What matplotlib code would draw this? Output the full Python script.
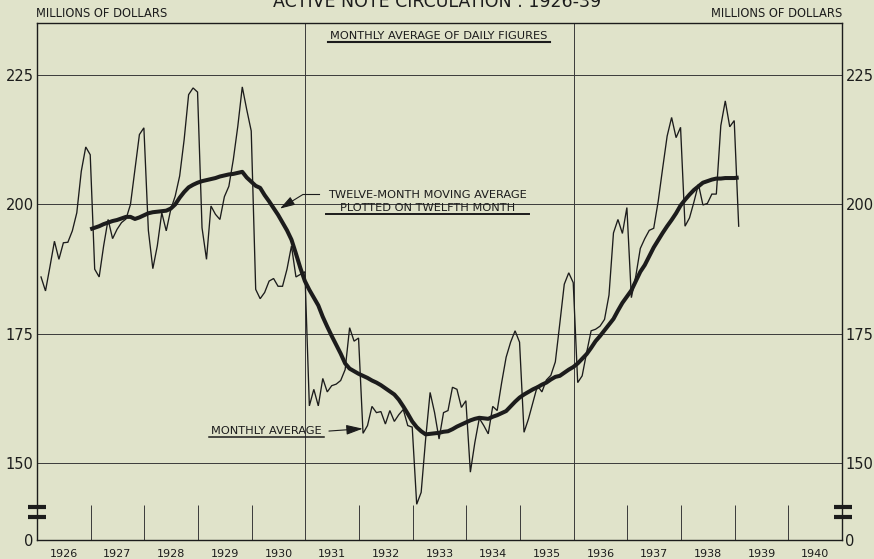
import numpy as np
import matplotlib
matplotlib.use("Agg")
import matplotlib.pyplot as plt
import matplotlib.transforms as mtransforms
from matplotlib.lines import Line2D

# ── Data: active note circulation, millions of dollars ─────
START_YEAR = 1926

# monthly average of daily figures, Jan 1926 .. Jan 1939
monthly_avg = [
    186.0, 183.3, 188.0, 192.9, 189.4, 192.6, 192.7, 194.9, 198.4, 206.4, 211.1, 209.6,  # 1926
    187.5, 186.0, 192.0, 197.1, 193.4, 195.2, 196.5, 197.2, 200.0, 206.8, 213.5, 214.8,  # 1927
    195.0, 187.6, 192.0, 198.4, 194.9, 199.0, 201.6, 205.5, 212.5, 221.2, 222.5, 221.7,  # 1928
    195.5, 189.4, 199.7, 198.1, 197.1, 201.5, 203.5, 208.7, 215.1, 222.7, 218.3, 214.2,  # 1929
    183.6, 181.8, 183.0, 185.2, 185.7, 184.2, 184.2, 187.5, 192.0, 186.0, 186.5, 187.0,  # 1930
    161.1, 164.3, 161.1, 166.4, 163.8, 165.0, 165.3, 166.0, 168.1, 176.2, 173.6, 174.2,  # 1931
    155.8, 157.3, 161.0, 159.8, 160.0, 157.6, 160.2, 158.1, 159.4, 160.4, 157.3, 157.0,  # 1932
    142.1, 144.4, 154.7, 163.7, 159.8, 154.7, 159.8, 160.2, 164.7, 164.3, 160.8, 162.1,  # 1933
    148.3, 154.0, 158.7, 157.3, 155.7, 161.0, 160.2, 165.6, 170.5, 173.4, 175.6, 173.4,  # 1934
    156.0, 158.6, 161.8, 165.0, 163.8, 166.1, 167.0, 169.6, 177.0, 184.6, 186.8, 184.9,  # 1935
    165.6, 166.9, 171.4, 175.6, 175.9, 176.5, 177.8, 182.5, 194.5, 197.1, 194.4, 199.4,  # 1936
    182.0, 186.2, 191.5, 193.4, 195.0, 195.4, 200.6, 207.0, 213.2, 216.8, 212.9, 214.9,  # 1937
    195.8, 197.4, 200.5, 203.9, 199.9, 200.2, 202.0, 202.0, 215.2, 220.0, 215.0, 216.2,  # 1938
    195.8,                                                                                # 1939
]

# twelve-month moving average, plotted on twelfth month (Dec 1926 .. Jan 1939)
MA_FIRST_MONTH = 11
moving_avg = [
    195.2,                                                                                # 1926
    195.5, 195.8, 196.2, 196.5, 196.8, 197.0, 197.3, 197.6, 197.6, 197.2, 197.5, 197.9,  # 1927
    198.3, 198.5, 198.6, 198.7, 198.8, 199.2, 200.0, 201.3, 202.4, 203.3, 203.8, 204.2,  # 1928
    204.5, 204.7, 204.9, 205.1, 205.4, 205.6, 205.8, 205.9, 206.1, 206.3, 205.2, 204.4,  # 1929
    203.6, 203.2, 201.8, 200.6, 199.3, 198.0, 196.5, 195.0, 193.2, 190.5, 187.7, 185.2,  # 1930
    183.5, 182.0, 180.5, 178.3, 176.4, 174.6, 172.9, 171.2, 169.3, 168.3, 167.8, 167.3,  # 1931
    166.9, 166.5, 166.0, 165.6, 165.1, 164.5, 163.9, 163.3, 162.3, 161.0, 159.6, 158.1,  # 1932
    157.0, 156.2, 155.6, 155.7, 155.8, 155.9, 156.1, 156.2, 156.6, 157.1, 157.5, 157.9,  # 1933
    158.3, 158.6, 158.8, 158.7, 158.6, 159.0, 159.3, 159.7, 160.1, 161.0, 161.9, 162.7,  # 1934
    163.3, 163.8, 164.3, 164.7, 165.2, 165.6, 166.2, 166.7, 166.9, 167.5, 168.1, 168.6,  # 1935
    169.3, 170.2, 171.1, 172.3, 173.6, 174.6, 175.7, 176.8, 177.9, 179.5, 181.0, 182.2,  # 1936
    183.4, 185.2, 187.0, 188.3, 190.0, 191.7, 193.1, 194.5, 195.8, 197.0, 198.3, 199.8,  # 1937
    200.9, 201.9, 202.8, 203.5, 204.2, 204.5, 204.8, 205.0, 205.0, 205.1, 205.1, 205.1,  # 1938
    205.2,                                                                                # 1939
]

year_labels = [str(y) for y in range(1926, 1941)]
grid_values = [150, 175, 200, 225]

# ── Style / layout ─────────────────────────────────────────
BG = "#e0e3ca"
INK = "#1c1c1c"
GRID = "#3a3a3a"
ZERO_POS = 135.2      # broken axis: where zero sits below 150
Y_TOP = 235.1
MONTH_OFFSET = 0.9    # points sit near the end of each month

plt.rcParams["font.family"] = ["DejaVu Sans"]

fig = plt.figure(figsize=(8.74, 5.59), dpi=100)
fig.patch.set_facecolor(BG)
ax = fig.add_axes([37 / 874, 1 - 540 / 559, 805 / 874, (540 - 22.7) / 559])
ax.set_facecolor(BG)
ax.set_xlim(1926, 1941)
ax.set_ylim(ZERO_POS, Y_TOP)

for s in ax.spines.values():
    s.set_color(INK)
    s.set_linewidth(1.0)

# grid
ax.hlines(grid_values, 1926, 1941, color=GRID, lw=0.7, zorder=1)
ax.vlines([1931, 1936], ZERO_POS, Y_TOP, color=GRID, lw=0.7, zorder=1)
short = [y for y in range(1927, 1941) if y not in (1931, 1936)]
ax.vlines(short, ZERO_POS, 141.95, color=GRID, lw=0.7, zorder=1)

# series
months = np.arange(len(monthly_avg))
t_month = START_YEAR + (months + MONTH_OFFSET) / 12
t_ma = START_YEAR + (np.arange(len(moving_avg)) + MA_FIRST_MONTH + MONTH_OFFSET) / 12
ax.plot(t_month, monthly_avg, color=INK, lw=0.95, solid_joinstyle="miter", zorder=3)
ax.plot(t_ma, moving_avg, color=INK, lw=2.9, solid_capstyle="butt",
        solid_joinstyle="round", zorder=4)

# ticks
ax.set_yticks([ZERO_POS] + grid_values, ["0"] + [str(v) for v in grid_values])
ax.tick_params(axis="y", length=0, pad=2.5, labelsize=10.5, labelcolor=INK,
               left=True, right=True, labelleft=True, labelright=True)
ax.set_xticks(np.arange(1926, 1941) + 0.5, year_labels)
ax.tick_params(axis="x", length=0, pad=6.5, labelsize=8, labelcolor=INK)

# axis break marks
brk = mtransforms.blended_transform_factory(ax.transAxes, ax.transData)
for yb in (141.55, 139.6):
    for x0, x1 in ((-0.0112, 0.0112), (0.990, 1.0125)):
        ax.plot([x0, x1], [yb, yb], transform=brk, color=INK, lw=3.0,
                solid_capstyle="butt", clip_on=False, zorder=5)

# ── Text ───────────────────────────────────────────────────
fig.text(437 / 874, 1 - 7 / 559, "ACTIVE NOTE CIRCULATION : 1926-39",
         ha="center", va="baseline", fontsize=12.5, color=INK)
fig.text(36 / 874, 1 - 17 / 559, "MILLIONS OF DOLLARS", ha="left",
         va="baseline", fontsize=8.3, color=INK)
fig.text(842 / 874, 1 - 17 / 559, "MILLIONS OF DOLLARS", ha="right",
         va="baseline", fontsize=8.3, color=INK)

t_head = ax.text(1933.49, 232.5, "MONTHLY AVERAGE OF DAILY FIGURES",
                 ha="center", va="center", fontsize=8.2, color=INK)
t_ma_lbl = ax.text(1933.27, 200.58, "TWELVE-MONTH MOVING AVERAGE\nPLOTTED ON TWELFTH MONTH",
                   ha="center", va="center", fontsize=8.2, color=INK,
                   multialignment="center", linespacing=1.4)
t_mo_lbl = ax.text(1930.28, 156.18, "MONTHLY AVERAGE", ha="center", va="center",
                   fontsize=8.2, color=INK)

# leaders with arrowheads
ax.plot([1931.25, 1930.956], [201.93, 201.93], color=INK, lw=0.8, zorder=5)
ax.annotate("", xy=(1930.528, 199.2), xytext=(1930.956, 201.93),
            arrowprops=dict(arrowstyle="-|>,head_length=0.9,head_width=0.28",
                            color=INK, lw=0.8, shrinkA=0, shrinkB=0), zorder=5)
ax.annotate("", xy=(1932.069, 156.7), xytext=(1931.44, 156.24),
            arrowprops=dict(arrowstyle="-|>,head_length=1.0,head_width=0.3",
                            color=INK, lw=0.8, shrinkA=0, shrinkB=0), zorder=5)

# underlines under the labels
fig.canvas.draw()
renderer = fig.canvas.get_renderer()


def underline(txt, lw, drop=0.5, pad=2.0):
    bb = txt.get_window_extent(renderer)
    y = bb.y0 - drop
    fig.add_artist(Line2D([bb.x0 - pad, bb.x1 + pad], [y, y], color=INK, lw=lw,
                          transform=mtransforms.IdentityTransform()))


underline(t_head, 1.5)
underline(t_ma_lbl, 1.4)
underline(t_mo_lbl, 1.1)

fig.savefig("out.png", dpi=100, facecolor=BG)
print("Saved out.png")
